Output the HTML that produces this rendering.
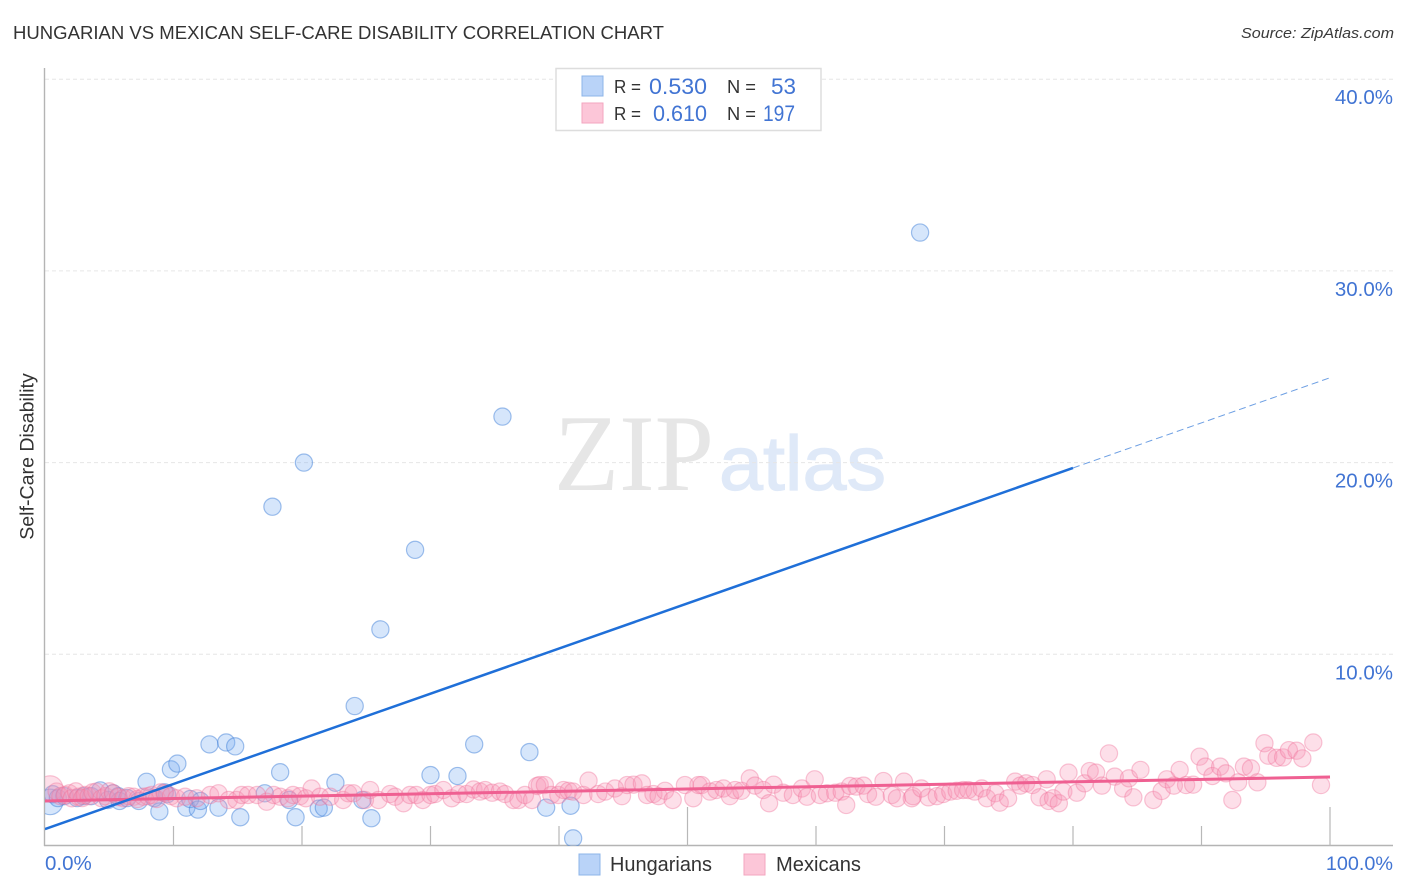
<!DOCTYPE html>
<html lang="en">
<head>
<meta charset="utf-8">
<title>Hungarian vs Mexican Self-Care Disability Correlation Chart</title>
<style>
html,body{margin:0;padding:0;background:#fff;}
svg{display:block;font-family:"Liberation Sans",sans-serif;}
</style>
</head>
<body>
<svg id="chart" xmlns="http://www.w3.org/2000/svg" width="1406" height="892" viewBox="0 0 1406 892">
  <defs>
    <clipPath id="plot-clip"><rect x="45" y="60" width="1350" height="786"/></clipPath>
  </defs>
  <rect x="0" y="0" width="1406" height="892" fill="#ffffff"/>
  <text x="13" y="39" font-size="18.5" fill="#333333" textLength="651" lengthAdjust="spacingAndGlyphs">HUNGARIAN VS MEXICAN SELF-CARE DISABILITY CORRELATION CHART</text>
  <text x="1241" y="38" font-size="15" font-style="italic" fill="#3a3a3a" textLength="153" lengthAdjust="spacingAndGlyphs">Source: ZipAtlas.com</text>
  <g>
    <text x="554" y="490" font-family="'Liberation Serif',serif" font-size="109" font-weight="400" fill="#e6e6e6" textLength="160" lengthAdjust="spacingAndGlyphs">ZIP</text>
    <text x="719" y="490" font-size="77" font-weight="400" fill="#dfe9f8" stroke="#dfe9f8" stroke-width="1.2" textLength="167" lengthAdjust="spacingAndGlyphs">atlas</text>
  </g>
  <g id="grid"></g>
  <g id="axes"></g>
  <g clip-path="url(#plot-clip)">
    <g id="points-hungarians"></g>
    <g id="points-mexicans"></g>
    <g id="trends"></g>
  </g>
  <text transform="translate(33.5,456.5) rotate(-90)" font-size="19.6" fill="#333333" text-anchor="middle">Self-Care Disability</text>
  <g id="ylabels"></g>
  <g id="xlabels"></g>

  <g>
    <rect x="556" y="68.5" width="265" height="62" fill="#ffffff" stroke="#dddddd" stroke-width="1.5"/>
    <rect x="582" y="76" width="21" height="20" fill="#b9d3f8" stroke="#8db4e8" stroke-width="1"/>
    <text x="614" y="93" fill="#333333" font-size="18" textLength="27" lengthAdjust="spacingAndGlyphs">R =</text>
    <text x="649" y="94" fill="#4174d3" font-size="22" textLength="58" lengthAdjust="spacingAndGlyphs">0.530</text>
    <text x="727" y="93" fill="#333333" font-size="18" textLength="29" lengthAdjust="spacingAndGlyphs">N =</text>
    <text x="771" y="94" fill="#4174d3" font-size="22" textLength="25" lengthAdjust="spacingAndGlyphs">53</text>
    <rect x="582" y="103" width="21" height="20" fill="#fcc6d8" stroke="#f3a6bf" stroke-width="1"/>
    <text x="614" y="120" fill="#333333" font-size="18" textLength="27" lengthAdjust="spacingAndGlyphs">R =</text>
    <text x="653" y="121" fill="#4174d3" font-size="22" textLength="54" lengthAdjust="spacingAndGlyphs">0.610</text>
    <text x="727" y="120" fill="#333333" font-size="18" textLength="29" lengthAdjust="spacingAndGlyphs">N =</text>
    <text x="763" y="121" fill="#4174d3" font-size="22" textLength="32" lengthAdjust="spacingAndGlyphs">197</text>
  </g>

  <g>
    <rect x="579" y="854" width="21" height="21" fill="#b9d3f8" stroke="#8db4e8" stroke-width="1"/>
    <text x="610" y="871" font-size="20" fill="#333333" textLength="102" lengthAdjust="spacingAndGlyphs">Hungarians</text>
    <rect x="744" y="854" width="21" height="21" fill="#fcc6d8" stroke="#f3a6bf" stroke-width="1"/>
    <text x="776" y="871" font-size="20" fill="#333333" textLength="85" lengthAdjust="spacingAndGlyphs">Mexicans</text>
  </g>
</svg>
<script>
const yGridValues = [10, 20, 30, 40];
const yTickLabels = ["10.0%", "20.0%", "30.0%", "40.0%"];
const xTickValues = [10, 20, 30, 40, 50, 60, 70, 80, 90, 100];
const xTallTicks = [50, 100];
const xEndValues = [0, 100];
const xEndLabels = ["0.0%", "100.0%"];

const hungariansX = [0.4,0.6,1,1.5,2.5,3,3.6,4.3,4.9,5.3,5.7,5.8,6.4,7.3,7.9,8.5,9.3,9.5,9.8,10.3,8.9,11,11.3,11.9,12.1,12.8,13.5,14.1,14.8,15.2,17.1,17.7,18.3,19,19.5,20.15,21.3,21.7,22.6,24.1,24.7,25.4,26.1,28.8,30,32.1,33.4,35.6,37.7,39,40.9,41.1,68.1];
const hungariansY = [2.3,2.7,2.5,2.6,2.5,2.6,2.6,2.9,2.4,2.75,2.6,2.35,2.5,2.35,3.35,2.5,2.8,2.7,4,4.3,1.8,2,2.45,1.9,2.35,5.3,2,5.4,5.2,1.5,2.75,17.7,3.85,2.4,1.5,20,1.95,2,3.3,7.3,2.4,1.45,11.3,15.45,3.7,3.65,5.3,22.4,4.9,2,2.1,0.4,32];
const hungariansWeights = [2.2];

const mexicansX = [0.4,0.9,1.2,1.56,1.9,2.08,2.4,2.6,2.9,3.1,3.4,3.7,4,4.4,4.7,5,5.3,5.7,6.1,6.5,6.9,7.2,7.65,8,8.3,8.7,9,9.35,9.8,10.25,10.9,11.8,12.85,13.5,14.3,14.9,15.3,15.8,16.5,17.25,17.8,18.3,18.9,19.3,19.85,20.3,20.75,21.4,22.2,23.2,23.6,24,24.9,25.3,25.95,26.85,27.25,27.9,28.4,28.9,29.4,30,30.35,31,31.65,32.2,32.8,33.35,33.85,34.25,34.8,35.4,35.8,36.45,36.85,37.35,37.9,38.3,38.5,38.9,39.4,39.95,40.35,40.75,41.1,41.9,42.3,43.05,43.6,44.35,44.9,45.3,45.8,46.45,46.85,47.35,47.75,48.25,48.85,49.8,50.45,50.85,51.1,51.75,52.25,52.8,53.3,53.7,54.2,54.85,55.25,55.9,56.35,56.7,57.45,58.2,58.9,59.3,59.9,60.3,60.85,61.5,62,62.35,62.65,63.15,63.7,64.05,64.65,65.25,65.9,66.3,66.85,67.45,67.55,68.2,68.75,69.4,69.9,70.45,70.95,71.45,71.85,72.35,72.9,73.3,73.95,74.3,74.95,75.5,75.9,76.35,76.85,77.4,77.95,78.1,78.45,78.9,79.25,79.65,80.3,80.9,81.3,81.8,82.25,82.8,83.25,83.9,84.35,84.7,85.25,86.25,86.9,87.3,87.85,88.3,88.8,89.35,89.85,90.3,90.85,91.45,91.9,92.4,92.85,93.3,93.85,94.35,94.9,95.2,95.85,96.35,96.8,97.4,97.85,98.7,99.3];
const mexicansY = [3.0,2.84,2.6,2.66,2.75,2.49,2.85,2.57,2.5,2.66,2.6,2.8,2.84,2.49,2.6,2.85,2.75,2.55,2.49,2.6,2.57,2.45,2.57,2.6,2.66,2.45,2.8,2.75,2.6,2.49,2.57,2.49,2.66,2.75,2.4,2.4,2.66,2.66,2.66,2.31,2.66,2.57,2.49,2.66,2.6,2.49,3,2.57,2.57,2.4,2.75,2.75,2.4,2.92,2.4,2.71,2.57,2.23,2.66,2.66,2.4,2.66,2.71,2.92,2.49,2.71,2.71,2.95,2.84,2.92,2.78,2.84,2.71,2.4,2.4,2.66,2.4,3.13,3.18,3.18,2.66,2.66,2.92,2.88,2.84,2.66,3.41,2.71,2.84,3,2.6,3.18,3.2,3.27,2.66,2.71,2.6,2.88,2.4,3.18,2.49,3.18,3.18,2.84,2.92,3,2.6,2.92,2.88,3.53,3.15,2.92,2.23,3.2,2.78,2.66,3,2.57,3.48,2.66,2.75,2.78,2.84,2.14,3.13,3.1,3.15,2.71,2.57,3.39,2.66,2.49,3.36,2.49,2.6,3,2.54,2.6,2.71,2.84,2.88,2.92,2.92,2.84,3,2.49,2.75,2.26,2.49,3.36,3.15,3.27,3.18,2.54,3.48,2.35,2.49,2.23,2.84,3.83,2.78,3.27,3.91,3.83,3.15,4.83,3.62,3,3.53,2.54,3.97,2.4,2.87,3.48,3.15,3.97,3.18,3.2,4.66,4.14,3.65,4.14,3.79,2.4,3.32,4.14,4.05,3.32,5.36,4.71,4.6,4.62,5,4.97,4.57,5.4,3.18];
const mexicansWeights = [2.2];

const hungariansTrendX = [0, 80];
const hungariansTrendY = [0.88, 19.72];
const hungariansDashX = [80, 100.1];
const hungariansDashY = [19.72, 24.45];
const mexicansTrendX = [0, 100];
const mexicansTrendY = [2.35, 3.6];

const NS = "http://www.w3.org/2000/svg";
const xScale = function (v) { return 45 + v * 12.85; };
const yScale = function (v) { return 846 - v * 19.17; };

function make(tag, parent, attrs) {
  const el = document.createElementNS(NS, tag);
  Object.keys(attrs).forEach(function (k) { el.setAttribute(k, attrs[k]); });
  parent.appendChild(el);
  return el;
}

const grid = document.getElementById("grid");
const axes = document.getElementById("axes");
const ylabels = document.getElementById("ylabels");
const xlabels = document.getElementById("xlabels");

yGridValues.forEach(function (v, i) {
  const line = make("line", grid, {x1: 45, x2: 1393, y1: yScale(v), y2: yScale(v), stroke: "#e6e6e6", "stroke-width": 1, "stroke-dasharray": "4 3"});
  
  
  const label = make("text", ylabels, {x: 1393, y: yScale(v) + 25, "text-anchor": "end", "font-size": 20.5, fill: "#4174d3"});
  label.textContent = yTickLabels[i];
  
  
});

const yAxisLine = make("line", axes, {x1: 44.5, x2: 44.5, y1: 68, y2: 846, stroke: "#b4b4b4", "stroke-width": 1.4});


const xAxisLine = make("line", axes, {x1: 44, x2: 1393, y1: 845.5, y2: 845.5, stroke: "#b4b4b4", "stroke-width": 1.4});



xTickValues.forEach(function (v) {
  const tall = xTallTicks.indexOf(v) >= 0;
  const tick = make("line", axes, {x1: xScale(v), x2: xScale(v), y1: tall ? 807 : 826, y2: 846, stroke: "#b8b8b8", "stroke-width": 1.2});
  
  
});

xEndValues.forEach(function (v, i) {
  const label = make("text", xlabels, {x: i === 0 ? xScale(v) : 1393, y: 870, "text-anchor": i === 0 ? "start" : "end", "font-size": i === 0 ? 20.5 : 19.8, fill: "#4174d3"});
  label.textContent = xEndLabels[i];
  
  
});

function drawPoints(groupId, xs, ys, weights, fill, stroke) {
  const group = document.getElementById(groupId);
  xs.forEach(function (x, i) {
    const c = make("circle", group, {cx: xScale(x), cy: yScale(ys[i]), r: 8.6 * Math.sqrt(weights[i] || 1), fill: fill, stroke: stroke, "stroke-width": 1.2});
    
    
  });
}
drawPoints("points-hungarians", hungariansX, hungariansY, hungariansWeights, "rgba(120,172,242,0.3)", "rgba(60,125,215,0.48)");
drawPoints("points-mexicans", mexicansX, mexicansY, mexicansWeights, "rgba(250,150,182,0.3)", "rgba(240,115,155,0.4)");

const trends = document.getElementById("trends");
const mexTrend = make("line", trends, {x1: xScale(mexicansTrendX[0]), y1: yScale(mexicansTrendY[0]), x2: xScale(mexicansTrendX[1]), y2: yScale(mexicansTrendY[1]), stroke: "#ef6092", "stroke-width": 3});


const hunTrend = make("line", trends, {x1: xScale(hungariansTrendX[0]), y1: yScale(hungariansTrendY[0]), x2: xScale(hungariansTrendX[1]), y2: yScale(hungariansTrendY[1]), stroke: "#1f6fd8", "stroke-width": 2.5});


const hunDash = make("line", trends, {x1: xScale(hungariansDashX[0]), y1: yScale(hungariansDashY[0]), x2: xScale(hungariansDashX[1]), y2: yScale(hungariansDashY[1]), stroke: "#6d9fe3", "stroke-width": 1, "stroke-dasharray": "7 4"});


</script>
</body>
</html>
